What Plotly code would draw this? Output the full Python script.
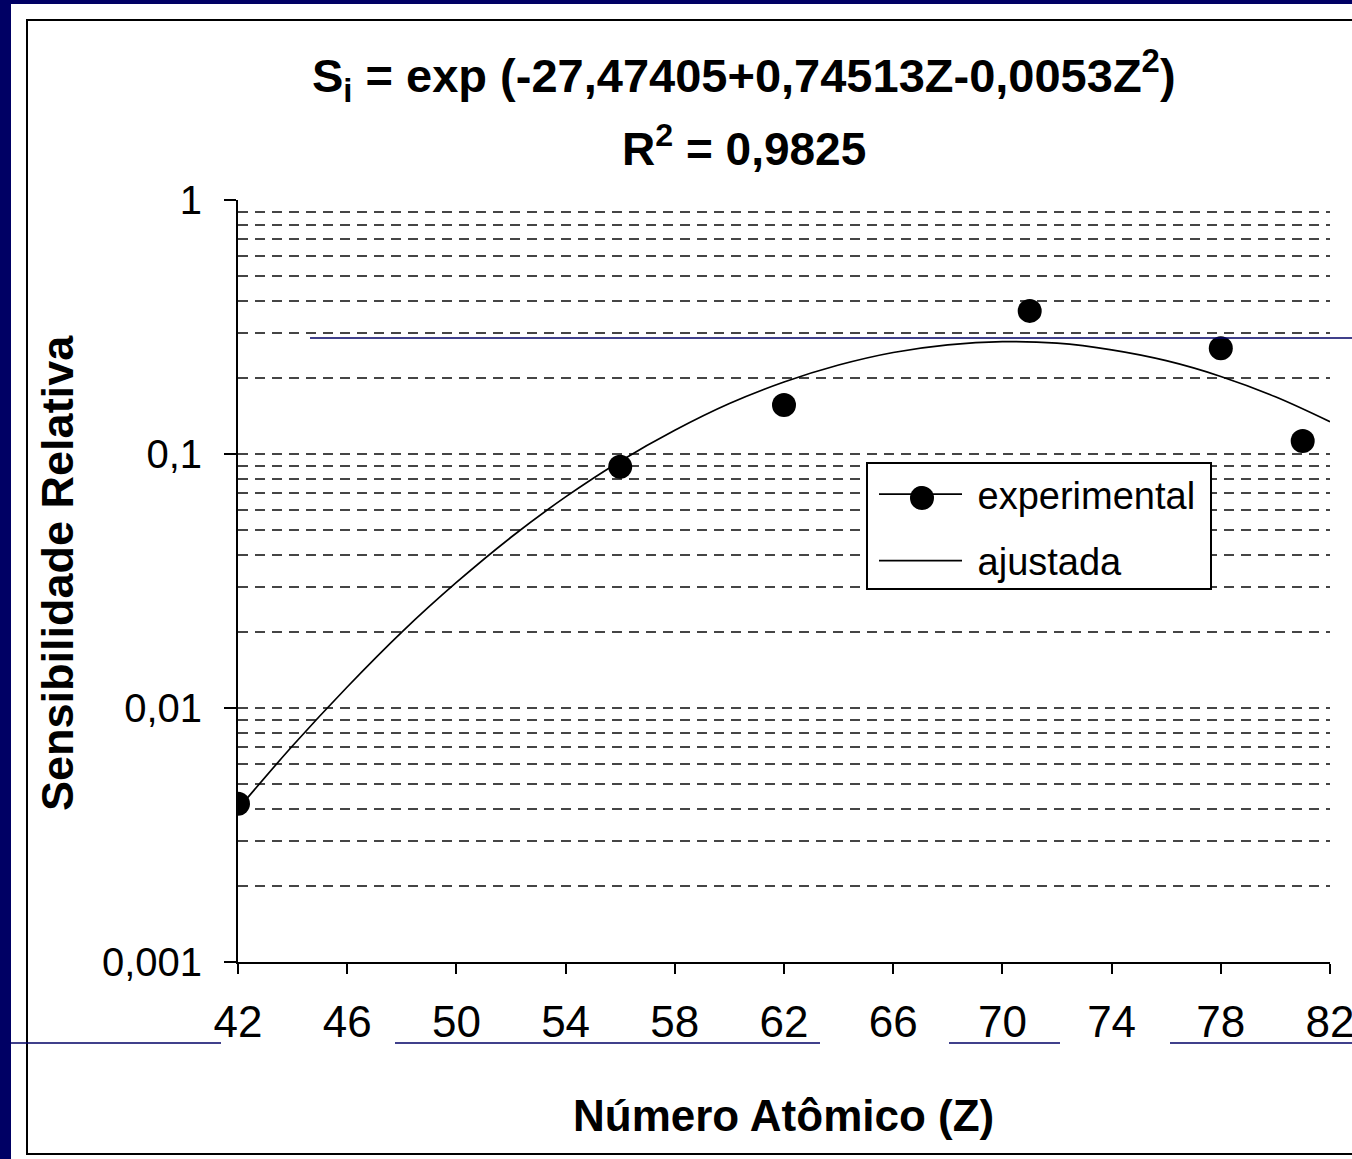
import plotly.graph_objects as go

# ---- data ----
z_exp = [42, 56, 62, 71, 78, 81]
s_exp = [0.0042, 0.089, 0.156, 0.366, 0.261, 0.1125]

z_fit = [42, 44, 46, 48, 50, 52, 54, 56, 58, 60, 62, 64, 66, 68, 70, 72, 74, 76, 78, 80, 82]
s_fit = [0.0040, 0.0071, 0.0121, 0.0199, 0.0312, 0.0470, 0.0678, 0.0937, 0.124, 0.158,
         0.192, 0.224, 0.251, 0.269, 0.277, 0.273, 0.257, 0.233, 0.202, 0.168, 0.134]

x_ticks = [42, 46, 50, 54, 58, 62, 66, 70, 74, 78, 82]

title1 = "S<sub>i</sub> = exp (-27,47405+0,74513Z-0,0053Z<sup>2</sup>)"
title2 = "R<sup>2</sup> = 0,9825"
x_title = "Número Atômico (Z)"
y_title = "Sensibilidade Relativa"
legend_names = ["experimental", "ajustada"]

# experimental points separated by gaps so no connecting line is drawn
xe, ye = [], []
for a, b in zip(z_exp, s_exp):
    xe += [a, None]
    ye += [b, None]

W, H = 1352, 1159
L, R, T, B = 238, 22, 200, 197
PW, PH = W - L - R, H - T - B

def px(x):
    return (x - L) / PW

def py(y):
    return (H - B - y) / PH

FONT = "Liberation Sans, Arial, sans-serif"
NAVY = "#000064"
GRID = "#454545"
NB = "\u00a0"

fig = go.Figure()
fig.add_trace(go.Scatter(
    x=z_fit, y=s_fit, mode="lines", name=NB + legend_names[1],
    line=dict(color="black", width=1.7, shape="spline"),
    legendrank=2, legendgroup="b"))
fig.add_trace(go.Scatter(
    x=xe, y=ye, mode="lines+markers", name=NB + legend_names[0], connectgaps=False,
    line=dict(color="black", width=1.7),
    marker=dict(color="black", size=24),
    legendrank=1, legendgroup="a"))

shapes = [
    dict(type="rect", xref="paper", yref="paper", x0=px(11), x1=px(1400), y0=py(1200), y1=py(4),
         fillcolor="white", line=dict(width=0), layer="below"),
    dict(type="rect", xref="paper", yref="paper", x0=px(27), x1=px(1400), y0=py(1154), y1=py(20),
         fillcolor="rgba(0,0,0,0)", line=dict(color="black", width=2), layer="below"),
    dict(type="line", xref="paper", yref="paper", x0=px(310), x1=px(1352), y0=py(338), y1=py(338),
         line=dict(color=NAVY, width=1.5), layer="above"),
    # legend box and its larger marker glyph
    dict(type="rect", xref="paper", yref="paper", x0=px(867), x1=px(1211), y0=py(589), y1=py(463),
         fillcolor="white", line=dict(color="black", width=2), layer="above"),
    dict(type="circle", xref="paper", yref="paper", x0=px(910), x1=px(934), y0=py(510), y1=py(486),
         fillcolor="black", line=dict(width=0), layer="above"),
]
for a, b in [(11, 221), (395, 820), (949, 1060), (1170, 1352)]:
    shapes.append(dict(type="line", xref="paper", yref="paper", x0=px(a), x1=px(b),
                       y0=py(1043), y1=py(1043), line=dict(color=NAVY, width=1.5), layer="above"))

annotations = [
    dict(text="<b>" + title1 + "</b>", x=px(744), y=py(76), xref="paper", yref="paper",
         showarrow=False, xanchor="center", yanchor="middle", font=dict(size=47, color="black", family=FONT)),
    dict(text="<b>" + title2 + "</b>", x=px(744), y=py(146), xref="paper", yref="paper",
         showarrow=False, xanchor="center", yanchor="middle", font=dict(size=46, color="black", family=FONT)),
    dict(text="<b>" + x_title + "</b>", x=px(783), y=py(1115), xref="paper", yref="paper",
         showarrow=False, xanchor="center", yanchor="middle", font=dict(size=44, color="black", family=FONT)),
    dict(text="<b>" + y_title + "</b>", x=px(57), y=py(573), xref="paper", yref="paper",
         showarrow=False, xanchor="center", yanchor="middle", textangle=-90,
         font=dict(size=45, color="black", family=FONT)),
]

fig.update_layout(
    width=W, height=H, autosize=False,
    margin=dict(l=L, r=R, t=T, b=B, pad=0, autoexpand=False),
    paper_bgcolor=NAVY, plot_bgcolor="white",
    font=dict(family=FONT, color="black"),
    separators=",.",
    shapes=shapes, annotations=annotations,
    showlegend=True,
    legend=dict(x=px(874), y=py(463), xanchor="left", yanchor="top",
                bgcolor="rgba(0,0,0,0)", borderwidth=0,
                font=dict(size=38, family=FONT, color="black"),
                itemwidth=83, tracegroupgap=14, traceorder="grouped"),
    xaxis=dict(range=[42, 82], tickmode="array", tickvals=x_ticks, automargin=False,
               ticks="outside", ticklen=10, tickwidth=2, tickcolor="black",
               showline=True, linecolor="black", linewidth=2,
               showgrid=False, zeroline=False, ticklabeloverflow="allow",
               ticklabelstandoff=10,
               tickfont=dict(size=44, family=FONT, color="black")),
    yaxis=dict(type="log", range=[-3, 0], tickmode="linear", tick0=0, dtick=1, automargin=False,
               ticks="outside", ticklen=12, tickwidth=2, tickcolor="black",
               showline=True, linecolor="black", linewidth=2,
               showgrid=True, gridcolor=GRID, gridwidth=2, griddash="10px,7px",
               zeroline=False, ticklabelstandoff=14,
               minor=dict(dtick="D1", showgrid=True, gridcolor=GRID, gridwidth=2,
                          griddash="10px,7px", ticks=""),
               tickfont=dict(size=40, family=FONT, color="black")),
)

fig.write_html(
    "out.html",
    config={"responsive": False, "displayModeBar": False},
    post_script="document.body.style.margin='0';document.body.style.overflow='hidden';"
                "document.body.style.background='" + NAVY + "';",
)
